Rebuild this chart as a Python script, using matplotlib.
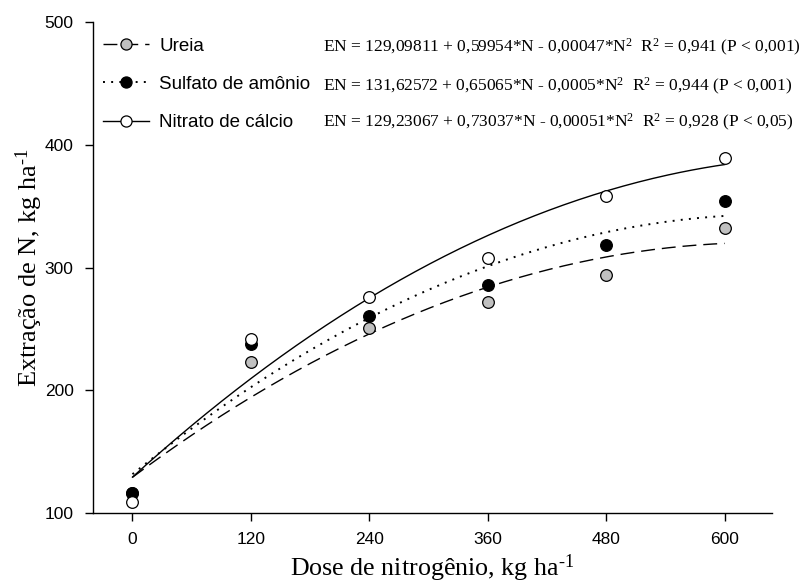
import matplotlib
matplotlib.use("Agg")
import matplotlib.pyplot as plt
import numpy as np

plt.rcParams['mathtext.fontset'] = 'custom'
plt.rcParams['mathtext.rm'] = 'Liberation Serif'
plt.rcParams['mathtext.it'] = 'Liberation Serif:italic'

# doses (kg/ha) and observed N extraction
dose = [0, 120, 240, 360, 480, 600]
ureia = [116, 223, 251, 272, 294, 332]
sulfato = [116.5, 238, 260.5, 285.5, 318, 354]
nitrato = [109, 242, 276, 308, 358.5, 389]

# fitted quadratic coefficients (a, b, c)
coef_ureia = [129.09811, 0.59954, -0.00047]
coef_sulfato = [131.62572, 0.65065, -0.0005]
coef_nitrato = [129.23067, 0.73037, -0.00051]

names = ["Ureia", "Sulfato de amônio", "Nitrato de cálcio"]
eqs = ["EN = 129,09811 + 0,59954*N - 0,00047*N$^2$  R$^2$ = 0,941 (P < 0,001)",
       "EN = 131,62572 + 0,65065*N - 0,0005*N$^2$  R$^2$ = 0,944 (P < 0,001)",
       "EN = 129,23067 + 0,73037*N - 0,00051*N$^2$  R$^2$ = 0,928 (P < 0,05)"]

fig = plt.figure(figsize=(8.03, 5.88), dpi=100)
ax = fig.add_axes([93/803, 1-513/588, (772-93)/803, (513-22)/588])

xs = np.linspace(0, 600, 200)
styles = [dict(ls=(0, (10, 5))), dict(ls=(0, (1, 3.2))), dict(ls='-')]
lws = [1.0, 1.4, 1.0]
fills = ['#c0c0c0', 'black', 'white']
data = [ureia, sulfato, nitrato]
coefs = [coef_ureia, coef_sulfato, coef_nitrato]

handles = []
for i in range(3):
    a, b, c = coefs[i]
    ax.plot(xs, a + b*xs + c*xs**2, color='black', lw=lws[i], zorder=2, **styles[i])
    ax.plot(dose, data[i], 'o', ms=8.4, mfc=fills[i], mec='black', mew=0.9, zorder=3+i)
    h, = ax.plot([], [], color='black', lw=lws[i], marker='o', ms=8.0, mfc=fills[i],
                 mec='black', mew=0.9, **styles[i])
    handles.append(h)

leg = ax.legend(handles, names, loc='upper left', bbox_to_anchor=(0.0147, 0.968),
                frameon=False, borderpad=0, borderaxespad=0, handlelength=2.45,
                handletextpad=0.55, labelspacing=1.12,
                prop={'family': 'Liberation Sans', 'size': 13.5})

rows = [0.949, 0.868, 0.795]
for i in range(3):
    ax.text(0.3387, rows[i], eqs[i], transform=ax.transAxes, family='Liberation Serif',
            fontsize=12.5, va='center', ha='left')

ax.set_xlim(-40, 648)
ax.set_ylim(100, 500)
ax.set_xticks(dose)
ax.set_yticks([100, 200, 300, 400, 500])
ax.spines['top'].set_visible(False)
ax.spines['right'].set_visible(False)
for s in ['left', 'bottom']:
    ax.spines[s].set_linewidth(1.0)
ax.tick_params(direction='out', length=6, width=1.0, labelsize=12.5, pad=8)
for lab in ax.get_xticklabels() + ax.get_yticklabels():
    lab.set_family('Liberation Sans')

ax.set_xlabel(r"Dose de nitrogênio, kg ha$^{\text{-1}}$", family='Liberation Serif',
              fontsize=18.7, labelpad=4)
ax.set_ylabel(r"Extração de N, kg ha$^{\text{-1}}$", family='Liberation Serif',
              fontsize=19, labelpad=0)

fig.savefig("out.png", dpi=100)
